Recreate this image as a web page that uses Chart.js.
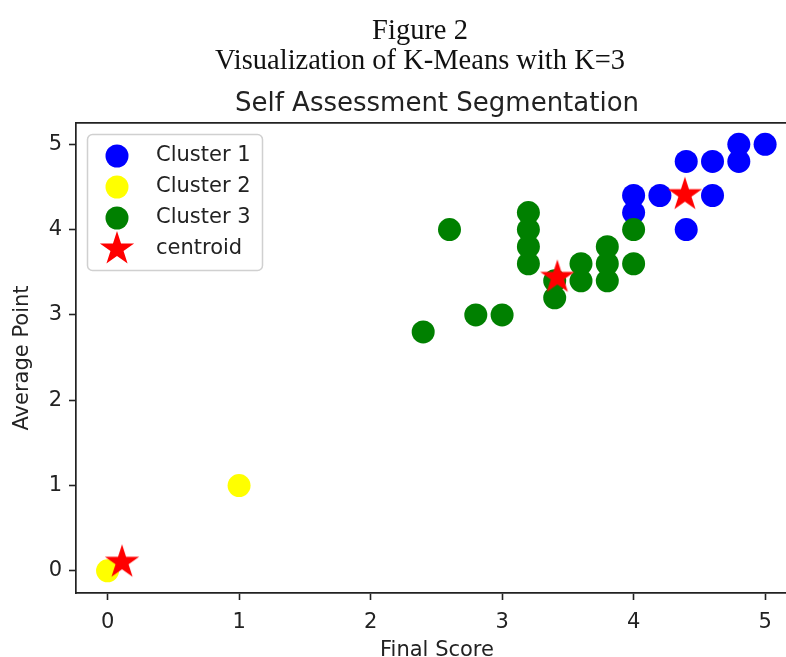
<!DOCTYPE html>
<html><head><meta charset="utf-8">
<script src="https://cdn.jsdelivr.net/npm/chart.js@4.4.0/dist/chart.umd.min.js"></script>
<style>
html,body{margin:0;padding:0;background:#fff;overflow:hidden;width:786px;height:657px}
#wrap{width:840px;height:657px}
</style></head>
<body><div id="wrap"><canvas id="c" width="840" height="657"></canvas></div>
<script>
const figureCaption = ['Figure 2', 'Visualization of K-Means with K=3'];
const chartTitle = 'Self Assessment Segmentation';
const xAxisLabel = 'Final Score';
const yAxisLabel = 'Average Point';
const seriesNames = ['Cluster 1', 'Cluster 2', 'Cluster 3', 'centroid'];

const cluster1X = [4.0, 4.0, 4.2, 4.4, 4.4, 4.6, 4.6, 4.8, 4.8, 5.0];
const cluster1Y = [4.4, 4.2, 4.4, 4.0, 4.8, 4.4, 4.8, 4.8, 5.0, 5.0];
const cluster2X = [0.0, 1.0];
const cluster2Y = [0.0, 1.0];
const cluster3X = [2.4, 2.6, 2.8, 3.0, 3.2, 3.2, 3.2, 3.2, 3.4, 3.4, 3.6, 3.6, 3.8, 3.8, 3.8, 4.0, 4.0];
const cluster3Y = [2.8, 4.0, 3.0, 3.0, 4.2, 4.0, 3.8, 3.6, 3.2, 3.4, 3.6, 3.4, 3.8, 3.6, 3.4, 4.0, 3.6];
const centroidX = [0.11, 3.42, 4.39];
const centroidY = [0.10, 3.44, 4.41];

const xTicks = [0, 1, 2, 3, 4, 5];
const yTicks = [0, 1, 2, 3, 4, 5];

const pts = (xs, ys) => xs.map((x, i) => ({x: x, y: ys[i]}));

function makeStar(R, color) {
  const s = Math.ceil(R * 2 + 4);
  const c = document.createElement('canvas');
  c.width = s; c.height = s;
  const g = c.getContext('2d');
  const cx = s / 2, cy = s / 2, r = R * 0.381966;
  g.beginPath();
  for (let k = 0; k < 10; k++) {
    const a = -Math.PI / 2 + k * Math.PI / 5;
    const rr = k % 2 === 0 ? R : r;
    const px = cx + rr * Math.cos(a), py = cy + rr * Math.sin(a);
    if (k === 0) g.moveTo(px, py); else g.lineTo(px, py);
  }
  g.closePath();
  g.fillStyle = color;
  g.fill();
  return c;
}
const starImg = makeStar(18, '#ff0000');

const SANS = '"DejaVu Sans", sans-serif';
const INK = '#222222';

const legendPlugin = {
  id: 'insideLegend',
  afterDatasetsDraw(chart) {
    const {ctx, chartArea} = chart;
    const L = chartArea.left + 11, T = chartArea.top + 11, W = 175, H = 136;
    ctx.save();
    ctx.beginPath();
    ctx.roundRect(L + 0.5, T + 0.5, W, H, 5);
    ctx.fillStyle = 'rgba(255,255,255,0.8)';
    ctx.fill();
    ctx.strokeStyle = '#d0d0d0';
    ctx.lineWidth = 1.5;
    ctx.stroke();
    chart.data.datasets.forEach((ds, i) => {
      const y = T + 22 + i * 31;
      ctx.fillStyle = ds.backgroundColor;
      Chart.helpers.drawPoint(ctx, {pointStyle: ds.pointStyle, radius: ds.pointRadius, borderWidth: 0, rotation: 0}, L + 30, y);
      ctx.fillStyle = INK;
      ctx.font = '21px ' + SANS;
      ctx.textBaseline = 'middle';
      ctx.textAlign = 'left';
      ctx.fillText(ds.label, L + 69, y);
    });
    ctx.restore();
  }
};

const axisCommon = {
  ticks: {font: {family: SANS, size: 21}, color: INK, padding: 7, autoSkip: false, maxRotation: 0},
  grid: {display: true, drawOnChartArea: false, drawTicks: true, tickLength: 7, tickColor: INK, tickWidth: 1.6},
  border: {display: true, color: INK, width: 1.7}
};

new Chart(document.getElementById('c'), {
  type: 'scatter',
  data: {
    datasets: [
      {label: seriesNames[0], data: pts(cluster1X, cluster1Y), backgroundColor: '#0000ff', pointStyle: 'circle', pointRadius: 11.5, pointBorderWidth: 0, order: 4},
      {label: seriesNames[1], data: pts(cluster2X, cluster2Y), backgroundColor: '#ffff00', pointStyle: 'circle', pointRadius: 11.5, pointBorderWidth: 0, order: 3},
      {label: seriesNames[2], data: pts(cluster3X, cluster3Y), backgroundColor: '#008000', pointStyle: 'circle', pointRadius: 11.5, pointBorderWidth: 0, order: 2},
      {label: seriesNames[3], data: pts(centroidX, centroidY), backgroundColor: '#ff0000', pointStyle: starImg, pointRadius: 18, pointBorderWidth: 0, order: 1}
    ]
  },
  options: {
    responsive: false,
    animation: false,
    events: [],
    layout: {padding: {left: 0, right: 0, top: 0, bottom: 0}},
    plugins: {
      legend: {display: false},
      tooltip: {enabled: false},
      title: {
        display: true, text: figureCaption, color: '#111111',
        font: {family: '"Liberation Serif", serif', size: 28.5, weight: 'normal', lineHeight: 30 / 28.5},
        padding: {top: 17, bottom: 0}
      }
    },
    scales: {
      x: Object.assign({}, axisCommon, {
        type: 'linear', position: 'bottom', min: -0.24, max: 5.25,
        afterBuildTicks: s => { s.ticks = xTicks.map(v => ({value: v})); },
        afterFit: s => { s.height = 64; },
        ticks: Object.assign({}, axisCommon.ticks, {padding: 9.5}),
        title: {display: true, text: xAxisLabel, color: INK, font: {family: SANS, size: 21, lineHeight: 0.57}, padding: 0}
      }),
      x2: {
        type: 'linear', position: 'top', min: -0.24, max: 5.25,
        afterFit: s => { s.height = 46; },
        ticks: {display: false},
        grid: {display: false, drawTicks: false},
        border: {display: true, color: INK, width: 1.7},
        title: {display: true, text: chartTitle, color: INK, font: {family: SANS, size: 26, lineHeight: 1.2}, padding: {top: 11.4, bottom: 0}}
      },
      y: Object.assign({}, axisCommon, {
        type: 'linear', position: 'left', min: -0.26, max: 5.25,
        afterBuildTicks: s => { s.ticks = yTicks.map(v => ({value: v})); },
        afterFit: s => { s.width = 76; },
        title: {display: true, text: yAxisLabel, color: INK, font: {family: SANS, size: 21, lineHeight: 1.2}, padding: {top: 10, bottom: 0}}
      }),
      y2: {
        type: 'linear', position: 'right', min: -0.26, max: 5.25,
        afterFit: s => { s.width = 42; },
        ticks: {display: false},
        grid: {display: false, drawTicks: false},
        border: {display: true, color: INK, width: 1.7}
      }
    }
  },
  plugins: [legendPlugin]
});
</script>
</body></html>
